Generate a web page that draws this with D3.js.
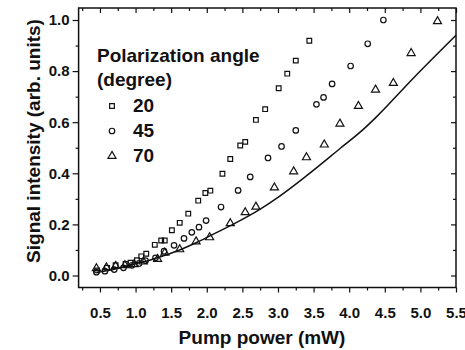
<!DOCTYPE html>
<html>
<head>
<meta charset="utf-8">
<script src="https://cdn.jsdelivr.net/npm/d3@7"></script>
<style>
  body { margin: 0; background: #fff; }
  text { font-family: "Liberation Sans", Arial, sans-serif; font-weight: bold; fill: #111; }
</style>
</head>
<body>
<svg id="chart"></svg>
<script>
// data: pump power (mW) / signal intensity
var sqP = [0.46,0.60,0.72,0.86,0.93,1.02,1.08,1.15,1.27,1.36,1.41,1.51,1.62,1.74,1.88,1.98,2.05,2.22,2.33,2.47,2.54,2.69,2.82,3.01,3.13,3.25,3.44];
var sqI = [0.02,0.03,0.04,0.045,0.05,0.06,0.075,0.085,0.12,0.137,0.137,0.177,0.206,0.242,0.293,0.323,0.332,0.398,0.456,0.509,0.523,0.609,0.651,0.733,0.79,0.841,0.919];

var ciP = [0.45,0.57,0.70,0.83,0.95,1.05,1.14,1.28,1.40,1.54,1.68,1.79,1.89,1.99,2.20,2.44,2.61,2.86,3.05,3.25,3.54,3.64,3.76,4.02,4.26,4.48];
var ciI = [0.013,0.017,0.023,0.03,0.04,0.047,0.058,0.069,0.095,0.118,0.145,0.169,0.189,0.215,0.268,0.333,0.386,0.46,0.505,0.568,0.67,0.697,0.75,0.82,0.907,1.0];

var trP = [0.45,0.59,0.72,0.85,0.98,1.11,1.31,1.41,1.62,1.85,2.04,2.33,2.54,2.69,2.95,3.22,3.40,3.65,3.87,4.13,4.37,4.62,4.87,5.24];
var trI = [0.03,0.033,0.039,0.042,0.046,0.056,0.066,0.091,0.104,0.135,0.151,0.206,0.249,0.271,0.346,0.409,0.464,0.514,0.596,0.665,0.729,0.755,0.872,0.997];

var fitP = [0.45,0.7,0.92,1.2,1.39,1.62,1.85,2.1,2.4,2.74,3.02,3.39,3.88,4.19,4.38,4.9,5.5];
var fitI = [0.012,0.024,0.041,0.06,0.077,0.10,0.128,0.163,0.205,0.258,0.31,0.388,0.499,0.57,0.62,0.772,0.94];

var legendTitle = ["Polarization angle", "(degree)"];
var angles = ["20", "45", "70"];

var xMajor = [0.5,1.0,1.5,2.0,2.5,3.0,3.5,4.0,4.5,5.0,5.5];
var xMinor = [0.25,0.75,1.25,1.75,2.25,2.75,3.25,3.75,4.25,4.75,5.25];
var yMajor = [0.0,0.2,0.4,0.6,0.8,1.0];
var yMinor = [0.1,0.3,0.5,0.7,0.9];

var W = 465, H = 350;
var pl = 78.6, pr = 456, pt = 8, pb = 287.5;

var svg = d3.select("#chart").attr("width", W).attr("height", H);

var x = d3.scaleLinear().domain([0.2, 5.5]).range([pl, pr]);
var y = d3.scaleLinear().domain([-0.047, 1.047]).range([pb, pt]);

var fmt = d3.format(".1f");

// axes
function styleAxis(g) {
  g.select(".domain").remove();
  g.selectAll("line").attr("stroke", "#111").attr("stroke-width", 1.2);
  g.selectAll("text").style("font-size", "15px").attr("fill", "#111")
    .style("font-family", "Liberation Sans, Arial").style("font-weight", "bold");
}

svg.append("g").attr("transform", "translate(0," + pb + ")")
  .call(d3.axisBottom(x).tickValues(xMajor).tickFormat(fmt).tickSize(5).tickPadding(15))
  .call(styleAxis);
svg.append("g").attr("transform", "translate(0," + pb + ")")
  .call(d3.axisBottom(x).tickValues(xMinor).tickFormat("").tickSize(3))
  .call(styleAxis);

svg.append("g").attr("transform", "translate(" + pl + ",0)")
  .call(d3.axisLeft(y).tickValues(yMajor).tickFormat(fmt).tickSize(6).tickPadding(3))
  .call(styleAxis);
svg.append("g").attr("transform", "translate(" + pl + ",0)")
  .call(d3.axisLeft(y).tickValues(yMinor).tickFormat("").tickSize(3))
  .call(styleAxis);

// mirrored ticks, pointing inward
svg.append("g").attr("transform", "translate(0," + pt + ")")
  .call(d3.axisBottom(x).tickValues(xMajor).tickFormat("").tickSize(5))
  .call(styleAxis);
svg.append("g").attr("transform", "translate(0," + pt + ")")
  .call(d3.axisBottom(x).tickValues(xMinor).tickFormat("").tickSize(3))
  .call(styleAxis);
svg.append("g").attr("transform", "translate(" + pr + ",0)")
  .call(d3.axisLeft(y).tickValues(yMajor).tickFormat("").tickSize(5))
  .call(styleAxis);
svg.append("g").attr("transform", "translate(" + pr + ",0)")
  .call(d3.axisLeft(y).tickValues(yMinor).tickFormat("").tickSize(3))
  .call(styleAxis);

// frame
svg.append("rect")
  .attr("x", pl).attr("y", pt)
  .attr("width", pr - pl).attr("height", pb - pt)
  .attr("fill", "none").attr("stroke", "#111").attr("stroke-width", 1.5);

// fit line
var line = d3.line()
  .x(function(d, i) { return x(fitP[i]); })
  .y(function(d, i) { return y(fitI[i]); })
  .curve(d3.curveMonotoneX);
svg.append("path").datum(fitP)
  .attr("d", line)
  .attr("fill", "none").attr("stroke", "#111").attr("stroke-width", 1.5);

// markers
var sym = {
  square: d3.symbol().type(d3.symbolSquare).size(22),
  circle: d3.symbol().type(d3.symbolCircle).size(24),
  triangle: d3.symbol().type(d3.symbolTriangle).size(28)
};

function drawSeries(P, I, shape, dy) {
  svg.append("g").selectAll("path")
    .data(P)
    .join("path")
    .attr("transform", function(d, i) { return "translate(" + x(d) + "," + (y(I[i]) + dy) + ")"; })
    .attr("d", sym[shape])
    .attr("fill", "none").attr("stroke", "#111").attr("stroke-width", 1.2);
}
drawSeries(sqP, sqI, "square", 0);
drawSeries(ciP, ciI, "circle", 0);
drawSeries(trP, trI, "triangle", 0.5);

// legend
svg.append("text").attr("x", 97).attr("y", 62).style("font-size", "19px").text(legendTitle[0]);
svg.append("text").attr("x", 97).attr("y", 86).style("font-size", "19px").text(legendTitle[1]);
var shapes = ["square", "circle", "triangle"];
angles.forEach(function(a, i) {
  var yy = 112 + i * 25;
  svg.append("path")
    .attr("transform", "translate(112," + (yy - 6) + ")")
    .attr("d", sym[shapes[i]])
    .attr("fill", "none").attr("stroke", "#111").attr("stroke-width", 1.2);
  svg.append("text").attr("x", 133).attr("y", yy).style("font-size", "19px").text(a);
});

// axis titles
svg.append("text")
  .attr("x", 262).attr("y", 344)
  .attr("text-anchor", "middle")
  .style("font-size", "19px")
  .text("Pump power (mW)");
svg.append("text")
  .attr("transform", "translate(40,141) rotate(-90)")
  .attr("text-anchor", "middle")
  .style("font-size", "19px")
  .text("Signal intensity (arb. units)");
</script>
</body>
</html>
